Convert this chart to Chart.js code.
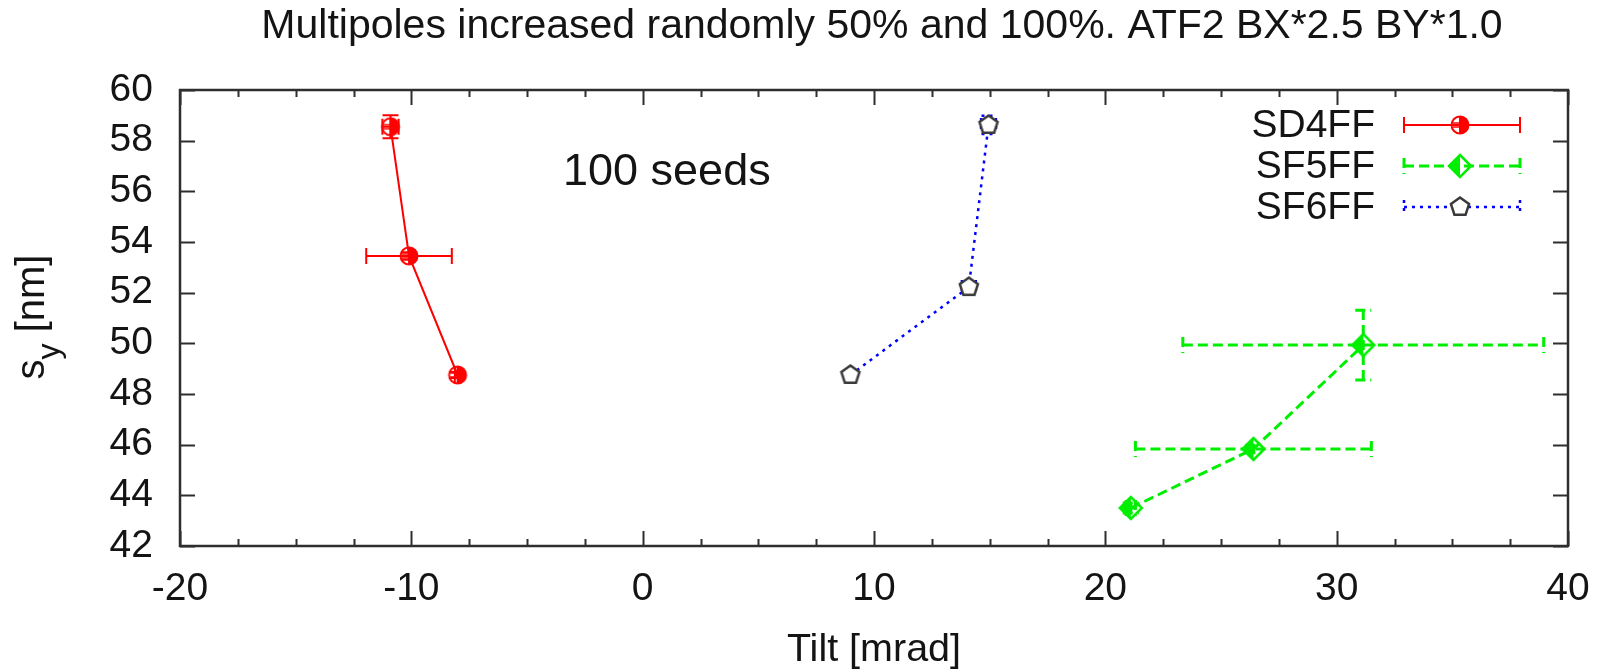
<!DOCTYPE html>
<html>
<head>
<meta charset="utf-8">
<script src="https://cdn.jsdelivr.net/npm/chart.js@4.4.1/dist/chart.umd.min.js"></script>
<style>
  html, body { margin: 0; padding: 0; background: #fff; }
  #wrap { width: 1612px; height: 670px; }
</style>
</head>
<body>
<div id="wrap"><canvas id="chart" width="1612" height="670"></canvas></div>
<script>
// Beam size s_y versus sextupole tilt, three magnets, 100 seeds each
const seriesNames = ['SD4FF', 'SF5FF', 'SF6FF'];

const sd4Tilt    = [-10.9, -10.1, -8.0];
const sd4Sy      = [58.55, 53.45, 48.75];
const sd4TiltErr = [0.35, 1.85, 0.12];
const sd4SyErr   = [0.45, 0.15, 0.12];

const sf5Tilt    = [21.1, 26.4, 31.15];
const sf5Sy      = [43.5, 45.83, 49.93];
const sf5TiltErr = [0.2, 5.1, 7.8];
const sf5SyErr   = [0.2, 0.15, 1.38];

const sf6Tilt    = [8.98, 14.1, 14.95];
const sf6Sy      = [48.75, 52.22, 58.62];
const sf6TiltErr = [0.1, 0.3, 0.32];
const sf6SyErr   = [0.1, 0.12, 0.36];

const xTickLabels = ['-20', '-10', '0', '10', '20', '30', '40'];
const yTickLabels = ['42', '44', '46', '48', '50', '52', '54', '56', '58', '60'];

const titleText = 'Multipoles increased randomly 50% and 100%. ATF2 BX*2.5 BY*1.0';
const noteText = '100 seeds';

const FONT = '"Liberation Sans", Arial, Helvetica, sans-serif';
const INK = '#141414';
const FRAME = '#2e2e2e';

// ---- marker sprites ----
function makeSprite(size, draw) {
  const c = document.createElement('canvas');
  c.width = size; c.height = size;
  const g = c.getContext('2d');
  draw(g, size / 2);
  return c;
}
const redMarker = makeSprite(24, (g, m) => {
  g.strokeStyle = '#ff0000'; g.fillStyle = '#ff0000'; g.lineWidth = 2;
  g.beginPath(); g.arc(m, m, 8.5, -Math.PI / 2, Math.PI / 2); g.closePath(); g.fill();
  g.beginPath(); g.arc(m, m, 8.5, 0, Math.PI * 2); g.stroke();
  g.beginPath(); g.moveTo(m, m - 8.5); g.lineTo(m, m + 8.5); g.stroke();
  g.lineWidth = 1.5;
  g.beginPath(); g.moveTo(m - 7, m - 2); g.lineTo(m, m - 2); g.moveTo(m - 7, m + 2); g.lineTo(m, m + 2); g.stroke();
});
const greenMarker = makeSprite(28, (g, m) => {
  const r = 11;
  g.strokeStyle = '#00ee00'; g.fillStyle = '#00ee00'; g.lineWidth = 2.5;
  g.beginPath(); g.moveTo(m, m - r); g.lineTo(m - r, m); g.lineTo(m, m + r); g.closePath(); g.fill();
  g.beginPath(); g.moveTo(m, m - r); g.lineTo(m + r, m); g.lineTo(m, m + r); g.lineTo(m - r, m); g.closePath(); g.stroke();
});
const blueMarker = makeSprite(26, (g, m) => {
  const r = 9.5;
  g.strokeStyle = '#3a3a3a'; g.fillStyle = '#ffffff'; g.lineWidth = 2.5;
  g.beginPath();
  for (let k = 0; k < 5; k++) {
    const a = -Math.PI / 2 + k * 2 * Math.PI / 5;
    const px = m + r * Math.cos(a), py = m + r * Math.sin(a);
    if (k === 0) g.moveTo(px, py); else g.lineTo(px, py);
  }
  g.closePath(); g.fill(); g.stroke();
});

function points(xs, ys) { return xs.map((x, i) => ({ x: x, y: ys[i] })); }

const datasets = [
  { label: seriesNames[0], data: points(sd4Tilt, sd4Sy), xErr: sd4TiltErr, yErr: sd4SyErr,
    borderColor: '#ff0000', borderWidth: 2, borderDash: [], capHalf: 8,
    pointStyle: redMarker, sprite: redMarker },
  { label: seriesNames[1], data: points(sf5Tilt, sf5Sy), xErr: sf5TiltErr, yErr: sf5SyErr,
    borderColor: '#00ee00', borderWidth: 3, borderDash: [10, 5], capHalf: 8,
    pointStyle: greenMarker, sprite: greenMarker },
  { label: seriesNames[2], data: points(sf6Tilt, sf6Sy), xErr: sf6TiltErr, yErr: sf6SyErr,
    borderColor: '#0000ff', borderWidth: 2.5, borderDash: [3, 5], capHalf: 7,
    pointStyle: blueMarker, sprite: blueMarker }
].map(d => Object.assign({ showLine: true, fill: false, tension: 0, pointRadius: 10,
  pointHoverRadius: 10, backgroundColor: d.borderColor }, d));

// ---- error bars, under the lines and markers ----
const errorBars = {
  id: 'errorBars',
  beforeDatasetsDraw(chart) {
    const ctx = chart.ctx, xs = chart.scales.x, ys = chart.scales.y;
    chart.data.datasets.forEach(ds => {
      ctx.save();
      ctx.strokeStyle = ds.borderColor;
      ctx.lineWidth = ds.borderWidth;
      ctx.setLineDash(ds.borderDash);
      ds.data.forEach((p, i) => {
        const px = xs.getPixelForValue(p.x), py = ys.getPixelForValue(p.y);
        const x0 = xs.getPixelForValue(p.x - ds.xErr[i]), x1 = xs.getPixelForValue(p.x + ds.xErr[i]);
        const y0 = ys.getPixelForValue(p.y - ds.yErr[i]), y1 = ys.getPixelForValue(p.y + ds.yErr[i]);
        const c = ds.capHalf;
        ctx.beginPath();
        ctx.moveTo(x0, py); ctx.lineTo(x1, py);
        ctx.moveTo(x0, py - c); ctx.lineTo(x0, py + c);
        ctx.moveTo(x1, py - c); ctx.lineTo(x1, py + c);
        ctx.moveTo(px, y0); ctx.lineTo(px, y1);
        ctx.moveTo(px - c, y0); ctx.lineTo(px + c, y0);
        ctx.moveTo(px - c, y1); ctx.lineTo(px + c, y1);
        ctx.stroke();
      });
      ctx.restore();
    });
  }
};

// ---- frame, inward ticks, titles, legend, note ----
const decorations = {
  id: 'decorations',
  afterDraw(chart) {
    const ctx = chart.ctx, a = chart.chartArea, xs = chart.scales.x, ys = chart.scales.y;
    ctx.save();
    ctx.strokeStyle = FRAME;
    ctx.lineWidth = 2.5;
    ctx.strokeRect(a.left, a.top, a.right - a.left, a.bottom - a.top);

    ctx.lineWidth = 2;
    ctx.beginPath();
    const major = 15, minor = 7;
    const xStep = xs.options.ticks.stepSize;
    for (let v = xs.min; v <= xs.max + 1e-9; v += xStep / 4) {
      const isMajor = Math.abs(Math.round(v / xStep) * xStep - v) < 1e-9;
      const len = isMajor ? major : minor;
      const px = Math.round(xs.getPixelForValue(v)) + 0.5;
      ctx.moveTo(px, a.bottom); ctx.lineTo(px, a.bottom - len);
      ctx.moveTo(px, a.top); ctx.lineTo(px, a.top + len);
    }
    ys.ticks.forEach(t => {
      const py = Math.round(ys.getPixelForValue(t.value)) + 0.5;
      ctx.moveTo(a.left, py); ctx.lineTo(a.left + major, py);
      ctx.moveTo(a.right, py); ctx.lineTo(a.right - major, py);
    });
    ctx.stroke();

    ctx.fillStyle = INK;
    ctx.textBaseline = 'alphabetic';

    // chart title
    ctx.font = '41px ' + FONT;
    ctx.textAlign = 'center';
    ctx.fillText(titleText, 882, 38);

    // x axis title
    ctx.font = '39.5px ' + FONT;
    ctx.fillText('Tilt [mrad]', (a.left + a.right) / 2, 661);

    // y axis title with subscript
    ctx.save();
    ctx.translate(44, (a.top + a.bottom) / 2 - 1);
    ctx.rotate(-Math.PI / 2);
    ctx.textAlign = 'left';
    ctx.font = '40px ' + FONT;
    const wS = ctx.measureText('s').width;
    const wR = ctx.measureText(' [nm]').width;
    ctx.font = '32px ' + FONT;
    const wY = ctx.measureText('y').width;
    const x0 = -(wS + wY + wR) / 2;
    ctx.font = '40px ' + FONT;
    ctx.fillText('s', x0, 0);
    ctx.font = '32px ' + FONT;
    ctx.fillText('y', x0 + wS, 15);
    ctx.font = '40px ' + FONT;
    ctx.fillText(' [nm]', x0 + wS + wY, 0);
    ctx.restore();

    // annotation
    ctx.font = '45px ' + FONT;
    ctx.textAlign = 'left';
    ctx.fillText(noteText, 563, 185);

    // legend
    chart.data.datasets.forEach((ds, i) => {
      const cy = 125 + 41 * i;
      ctx.font = '39px ' + FONT;
      ctx.textAlign = 'right';
      ctx.textBaseline = 'middle';
      ctx.fillStyle = INK;
      ctx.fillText(ds.label, 1375, cy + 1);
      ctx.strokeStyle = ds.borderColor;
      ctx.lineWidth = ds.borderWidth;
      ctx.setLineDash(ds.borderDash);
      const l = 1404, r = 1520, c = ds.capHalf;
      ctx.beginPath();
      ctx.moveTo(l, cy); ctx.lineTo(r, cy);
      ctx.moveTo(l, cy - c); ctx.lineTo(l, cy + c);
      ctx.moveTo(r, cy - c); ctx.lineTo(r, cy + c);
      ctx.stroke();
      ctx.setLineDash([]);
      const s = ds.sprite;
      ctx.drawImage(s, 1460 - s.width / 2, cy - s.height / 2);
    });
    ctx.restore();
  }
};

const tickFont = { family: FONT, size: 39 };

new Chart(document.getElementById('chart'), {
  type: 'scatter',
  data: { datasets: datasets },
  options: {
    responsive: false,
    animation: false,
    devicePixelRatio: 1,
    layout: { padding: { top: 90, right: 44, left: 0, bottom: 0 } },
    plugins: {
      legend: { display: false },
      tooltip: { enabled: false },
      title: { display: false }
    },
    scales: {
      x: {
        type: 'linear', min: -20, max: 40,
        ticks: { stepSize: 10, padding: 20, font: tickFont, color: INK, maxRotation: 0, autoSkip: false,
          callback: (v) => xTickLabels[Math.round((v + 20) / 10)] },
        grid: { display: false, drawTicks: false },
        border: { display: false },
        afterFit: (s) => { s.height = 124; }
      },
      y: {
        type: 'linear', min: 42, max: 60,
        ticks: { stepSize: 2, padding: 27, font: tickFont, color: INK, autoSkip: false,
          callback: (v) => yTickLabels[Math.round((v - 42) / 2)] },
        grid: { display: false, drawTicks: false },
        border: { display: false },
        afterFit: (s) => { s.width = 180; }
      }
    }
  },
  plugins: [errorBars, decorations]
});
</script>
</body>
</html>
